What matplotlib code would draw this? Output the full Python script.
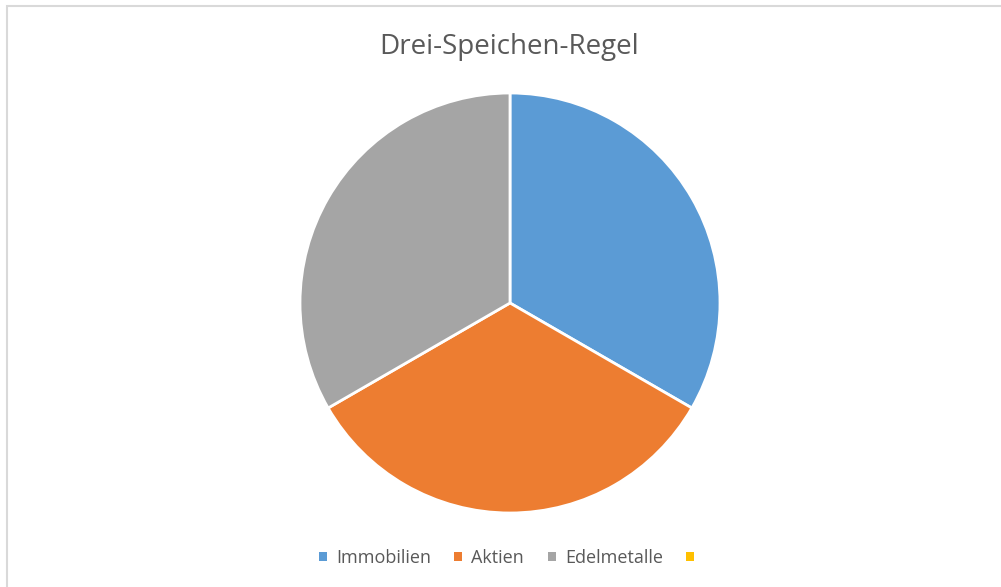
import matplotlib
matplotlib.use("Agg")
import matplotlib.pyplot as plt
from matplotlib.patches import Rectangle, Patch

categories = ["Immobilien", "Aktien", "Edelmetalle", ""]
values = [1, 1, 1, 0]
colors = ["#5B9BD5", "#ED7D31", "#A5A5A5", "#FFC000"]
title = "Drei-Speichen-Regel"

W, H = 1001, 587
fig = plt.figure(figsize=(W / 100, H / 100), dpi=100)
fig.patch.set_facecolor("white")

def fx(x):
    return x / W

def fy(y):
    return 1 - y / H

# chart area border
fig.patches.append(Rectangle((fx(7), fy(700)), fx(1100), 694 / H,
                             transform=fig.transFigure, fill=False,
                             edgecolor="#D9D9D9", linewidth=1.5, zorder=0))

# pie
cx, cy, r = 510, 303, 210
ax = fig.add_axes([fx(cx - r), fy(cy + r), 2 * r / W, 2 * r / H])
ax.pie(values[:3], colors=colors[:3], startangle=90, counterclock=False,
       radius=1, wedgeprops=dict(edgecolor="white", linewidth=2))
ax.set_xlim(-1, 1)
ax.set_ylim(-1, 1)
ax.set_aspect("equal")
ax.axis("off")

fig.text(fx(509), fy(47), title, fontsize=20, color="#595959",
         family="Open Sans", ha="center", va="center")

handles = [Patch(facecolor=c, edgecolor="none") for c in colors]
leg = fig.legend(handles, categories, loc="center", bbox_to_anchor=(fx(511), fy(558)),
                 ncol=4, frameon=False, handlelength=0.45,
                 handleheight=0.45, handletextpad=0.5, columnspacing=1.3,
                 prop=dict(family="Open Sans", size=13))
for t in leg.get_texts():
    t.set_color("#595959")

fig.savefig("out.png", dpi=100, facecolor="white")
